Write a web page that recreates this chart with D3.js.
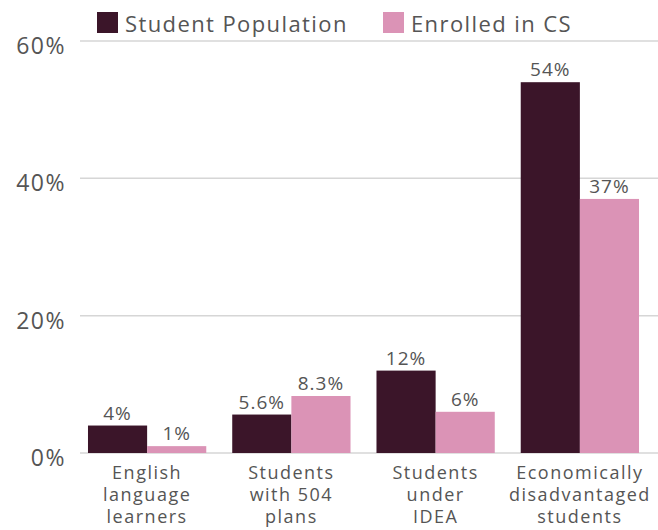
<!DOCTYPE html>
<html>
<head>
<meta charset="utf-8">
<script src="https://cdn.jsdelivr.net/npm/d3@7"></script>
<style>
  html, body { margin: 0; padding: 0; background: #fff; }
  svg { display: block; font-family: "Open Sans", Lato, sans-serif; }
</style>
</head>
<body>
<svg id="chart" width="658" height="530"></svg>
<script>
// Categories (multi-line labels) and the two series, in percent
const categories = [
  ["English", "language", "learners"],
  ["Students", "with 504", "plans"],
  ["Students", "under", "IDEA"],
  ["Economically", "disadvantaged", "students"]
];
const studentPopulation = [4, 5.6, 12, 54];
const enrolledInCS = [1, 8.3, 6, 37];
const valueLabels = [["4%", "5.6%", "12%", "54%"], ["1%", "8.3%", "6%", "37%"]];
const seriesNames = ["Student Population", "Enrolled in CS"];
const yTicks = [0, 20, 40, 60];

const colors = ["#3b1529", "#db93b6"];
const textColor = "#555";

const svg = d3.select("#chart");
const keys = categories.map((c, i) => i);

const x = d3.scaleBand().domain(keys).range([75, 652]).paddingInner(0.18).paddingOuter(0.09);
const xs = d3.scaleBand().domain([0, 1]).range([0, x.bandwidth()]);
const y = d3.scaleLinear().domain([0, 60]).range([453, 41]);

// Gridlines and y labels
const yAxis = svg.append("g").attr("class", "y-axis");
yAxis.selectAll("line").data(yTicks).join("line")
  .attr("x1", 80).attr("x2", 658)
  .attr("y1", d => y(d)).attr("y2", d => y(d))
  .attr("stroke", "#d6d6d6").attr("stroke-width", 1.5);
yAxis.selectAll("text").data(yTicks).join("text")
  .attr("x", 66).attr("y", d => y(d) + 13)
  .attr("text-anchor", "end")
  .attr("font-size", 23)
  .attr("letter-spacing", 1.5)
  .attr("fill", textColor)
  .text(d => d + "%");

// Bars
const series = [studentPopulation, enrolledInCS];
series.forEach((vals, s) => {
  const g = svg.append("g").attr("class", "series-" + s);
  g.selectAll("rect").data(vals).join("rect")
    .attr("x", (d, i) => x(i) + xs(s))
    .attr("width", xs.bandwidth())
    .attr("y", d => y(d))
    .attr("height", d => y(0) - y(d))
    .attr("fill", colors[s]);
  g.selectAll("text").data(vals).join("text")
    .attr("x", (d, i) => x(i) + xs(s) + xs.bandwidth() / 2)
    .attr("y", d => y(d) - 6)
    .attr("text-anchor", "middle")
    .attr("font-size", 19)
    .attr("letter-spacing", 1)
    .attr("fill", textColor)
    .text((d, i) => valueLabels[s][i]);
});

// Category labels
const cat = svg.append("g").attr("class", "x-axis");
categories.forEach((lines, i) => {
  const cx = x(i) + x.bandwidth() / 2;
  const t = cat.append("text")
    .attr("text-anchor", "middle")
    .attr("font-size", 18)
    .attr("letter-spacing", 1.5)
    .attr("fill", textColor);
  lines.forEach((ln, j) => {
    t.append("tspan").attr("x", cx).attr("y", 479 + j * 22).text(ln);
  });
});

// Legend
const legend = svg.append("g").attr("class", "legend");
const legendX = [97, 383];
seriesNames.forEach((name, s) => {
  legend.append("rect").attr("x", legendX[s]).attr("y", 12)
    .attr("width", 21).attr("height", 21).attr("fill", colors[s]);
  legend.append("text").attr("x", legendX[s] + 28).attr("y", 32)
    .attr("font-size", 22).attr("letter-spacing", 1.4)
    .attr("fill", textColor).text(name);
});
</script>
</body>
</html>
